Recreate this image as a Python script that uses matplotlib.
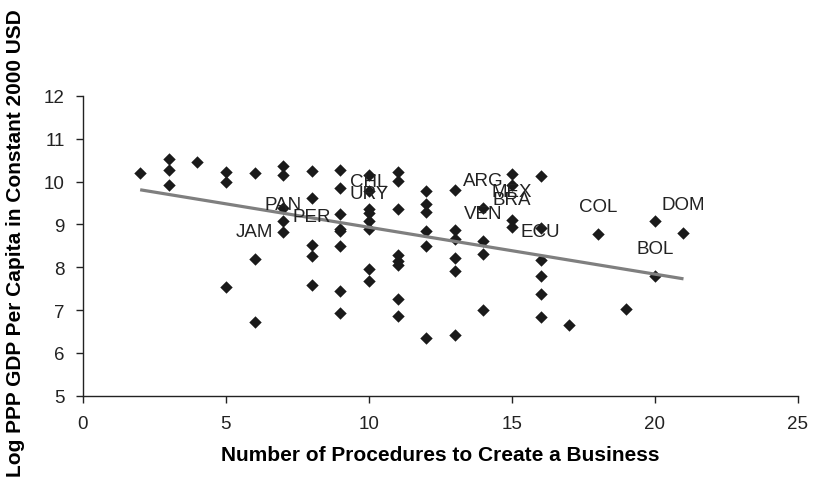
import numpy as np
import matplotlib
matplotlib.use('Agg')
import matplotlib.pyplot as plt

plt.rcParams['font.family'] = ['Liberation Sans', 'DejaVu Sans']

# Unlabelled countries: procedures vs log GDP
procs = [2, 3, 3, 3, 4, 5, 5, 5, 6, 6,
         7, 7, 7, 7, 8, 8, 8, 8,
         9, 9, 9, 9, 9, 9, 9, 9,
         10, 10, 10, 10, 10, 10,
         11, 11, 11, 11, 11, 11, 11, 11,
         12, 12, 12, 12, 12, 12,
         13, 13, 13, 13, 13, 13,
         14, 14, 15, 15,
         16, 16, 16, 16, 16, 17, 19, 20]
log_gdp = [10.20, 10.52, 10.27, 9.93, 10.45, 10.23, 9.99, 7.53, 10.20, 6.73,
           10.37, 10.16, 9.39, 9.09, 10.25, 9.61, 8.26, 7.59,
           10.27, 9.85, 9.25, 8.90, 8.85, 8.50, 7.45, 6.93,
           10.16, 9.79, 9.27, 8.89, 7.96, 7.67,
           10.23, 10.02, 9.36, 8.28, 8.15, 8.06, 7.26, 6.87,
           9.79, 9.48, 9.29, 8.84, 8.49, 6.34,
           9.81, 8.86, 8.65, 8.22, 7.91, 6.42,
           8.32, 7.01, 10.18, 9.92,
           10.14, 8.91, 7.80, 7.38, 6.83, 6.66, 7.03, 9.09]

# Labelled countries
countries = ['JAM', 'PAN', 'PER', 'CHL', 'URY', 'ARG', 'VEN', 'MEX', 'BRA',
             'ECU', 'COL', 'BOL', 'DOM']
country_procs = [6, 7, 8, 10, 10, 14, 14, 15, 15, 16, 18, 20, 21]
country_gdp = [8.19, 8.82, 8.53, 9.36, 9.08, 9.38, 8.61, 9.11, 8.93,
               8.18, 8.77, 7.80, 8.81]

# Linear trend line (endpoints)
trend_x = [2, 21]
trend_y = [9.81, 7.73]

fig = plt.figure(figsize=(8.15, 4.85), dpi=100)
ax = fig.add_axes([0.1018, 0.182, 0.8772, 0.618])

mk = dict(marker='D', s=40, color='#1a1a1a', linewidths=0, zorder=3)
ax.scatter(procs, log_gdp, **mk)
ax.scatter(country_procs, country_gdp, **mk)

ax.plot(trend_x, trend_y, color='#7f7f7f', linewidth=2.3, zorder=4,
        solid_capstyle='butt')

for name, cx, cy in zip(countries, country_procs, country_gdp):
    ax.annotate(name, (cx, cy), xytext=(0, 20), textcoords='offset points',
                ha='center', va='center', fontsize=13.5, color='#222222',
                zorder=5)

ax.set_xlim(0, 25)
ax.set_ylim(5, 12)
ax.set_xticks(np.arange(0, 26, 5))
ax.set_yticks(np.arange(5, 13, 1))
for side in ['top', 'right']:
    ax.spines[side].set_visible(False)
for side in ['left', 'bottom']:
    ax.spines[side].set_linewidth(1.0)
    ax.spines[side].set_color('#222222')
ax.tick_params(axis='both', direction='out', length=5, width=1.0,
               labelsize=13.5, colors='#222222')
ax.tick_params(axis='x', pad=9)
ax.tick_params(axis='y', pad=8)

ax.set_xlabel('Number of Procedures to Create a Business', fontsize=15,
              fontweight='bold')
ax.set_ylabel('Log PPP GDP Per Capita in Constant 2000 USD', fontsize=15,
              fontweight='bold')
ax.xaxis.set_label_coords(0.5, -0.165)
ax.yaxis.set_label_coords(-0.081, 0.513)

fig.savefig('out.png', dpi=100)
